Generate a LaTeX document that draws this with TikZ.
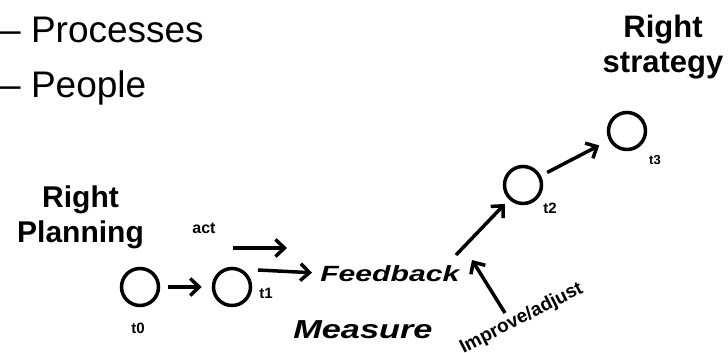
\documentclass[tikz,border=0pt]{standalone}
\usepackage{fontspec}
\setmainfont{Liberation Sans}
\usetikzlibrary{arrows.meta}

\begin{document}
\begin{tikzpicture}[x=1pt, y=-1pt,
	stage/.style = {draw, circle, line width=3.5pt, minimum size=37pt, inner sep=0pt},
	flow/.style = {line width=3.5pt, -{Straight Barb[length=9pt,width=17pt]}},
	tlabel/.style = {font=\bfseries\fontsize{15}{16}\selectfont, inner sep=0pt},
	title/.style = {font=\bfseries\fontsize{30}{35}\selectfont, align=center, inner sep=0pt},
	wide/.style = {font=\bfseries\itshape\fontsize{#1}{#1}\selectfont, inner sep=0pt, anchor=base west}]
	\useasboundingbox (0,0) rectangle (728,353);
	% bullet lines
	\node[anchor=base west, inner sep=0pt, font=\fontsize{37}{40}\selectfont] (proc) at (0,43) {-- Processes};
	\node[anchor=base west, inner sep=0pt, font=\fontsize{37}{40}\selectfont] (people) at (0,97) {-- People};
	% headings
	\node[title] (plan) at (80.5,217) {Right\\Planning};
	\node[title, font=\bfseries\fontsize{31}{35}\selectfont] (strat) at (663,47) {Right\\strategy};
	% time points
	\node[stage] (t0) at (140,287) {};
	\node[stage] (t1) at (232,287) {};
	\node[stage] (t2) at (523,185) {};
	\node[stage] (t3) at (627,131) {};
	\node[tlabel] (l0) at (138,328) {t0};
	\node[tlabel] (l1) at (266,293) {t1};
	\node[tlabel] (l2) at (550,208) {t2};
	\node[tlabel, font=\bfseries\fontsize{13}{14}\selectfont] (l3) at (655,160) {t3};
	% loop words
	\node[tlabel, font=\bfseries\fontsize{16}{17}\selectfont] (act) at (204,228) {act};
	\node[wide=22, xscale=1.37] (fb) at (320,281) {Feedback};
	\node[wide=26, xscale=1.32] (meas) at (293,338) {Measure};
	\node[tlabel, font=\bfseries\fontsize{19}{20}\selectfont, rotate=27] (imp) at (521.5,318.5) {Improve/adjust};
	\coordinate (a1) at (233,248);
	\coordinate (a2) at (287,248);
	\coordinate (f1) at (258,270);
	\coordinate (fbout) at (456,255);
	\coordinate (i1) at (505,313);
	\coordinate (i2) at (472,260);
	% arrows
	\draw[flow, shorten <=8pt, shorten >=10pt] (t0) -- (t1);
	\draw[flow] (a1) -- (a2);
	\draw[flow, shorten >=8pt] (f1) -- (fb.west);
	\draw[flow, shorten >=6pt] (fbout) -- (t2);
	\draw[flow] (i1) -- (i2);
	\draw[flow, shorten <=7pt, shorten >=11pt] (t2) -- (t3);
\end{tikzpicture}
\end{document}
